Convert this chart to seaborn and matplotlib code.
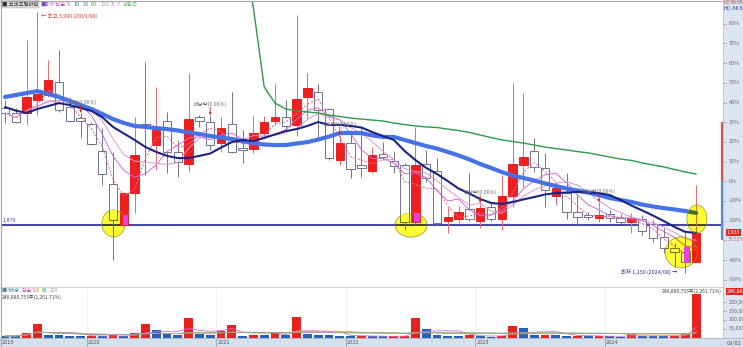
import numpy as np
import pandas as pd
import matplotlib
matplotlib.use("Agg")
import matplotlib.pyplot as plt
import seaborn as sns
from matplotlib.patches import Ellipse, Rectangle
from matplotlib.lines import Line2D
from matplotlib.colors import to_rgb
from matplotlib.transforms import blended_transform_factory

# ---------------- data (monthly candles, values on the chart's % axis) ----------------
months = [str(p) for p in pd.period_range("2019-05", "2024-09", freq="M")]

open_pct = [37.2, 34.7, 34.7, 41.3, 43.8, 50.4, 37.7, 32.1, 29.1, 15.4,
            -1.4, -22.2, -6.0, 29.1, 18.4, 30.6, 14.9, 8.8, 32.6, 30.1,
            19.4, 29.1, 16.9, 16.4, 24.5, 30.6, 32.6, 28.6, 42.8, 45.3,
            36.7, 10.8, 19.4, 8.3, 5.2, 13.9, 10.3, 8.3, -20.7, 8.8,
            5.2, -20.2, -19.1, -14.1, -20.2, -13.0, -19.1, -7.5, 8.3, 15.4,
            6.8, -7.5, -6.0, -15.6, -17.1, -18.6, -16.6, -18.6, -20.7, -19.1,
            -21.7, -28.3, -33.9, -35.9, -41.0]
high_pct = [41.3, 37.2, 71.7, 85.9, 61.6, 66.6, 42.8, 34.7, 30.1, 27.0,
            14.9, -5.4, 32.6, 60.6, 47.9, 35.2, 21.0, 55.0, 33.6, 33.6,
            32.6, 45.3, 26.0, 33.1, 33.1, 49.9, 41.3, 84.5, 55.0, 49.4,
            37.2, 23.5, 26.0, 27.0, 17.4, 19.9, 15.4, 9.3, 27.6, 15.9,
            11.8, -13.0, -12.5, 4.2, -11.0, -10.5, 3.2, 49.9, 44.8, 22.0,
            14.4, -0.4, 4.2, -7.0, -15.6, -10.5, -14.6, -16.6, -16.1, -17.1,
            -19.6, -23.7, -31.3, -26.2, -1.9]
low_pct = [29.6, 29.6, 28.6, 33.6, 42.8, 35.2, 30.1, 22.5, 18.4, -1.9,
           -40.0, -22.7, -16.1, 3.2, 5.7, 4.2, 2.2, 4.7, 27.6, 15.9,
           14.9, 14.4, 9.3, 14.4, 22.5, 28.6, 26.0, 23.0, 31.1, 22.5,
           10.8, 8.3, 1.7, 2.2, 4.2, 10.8, 4.2, -24.7, -21.7, -0.4,
           -22.2, -26.2, -21.2, -20.2, -23.7, -20.2, -24.7, -13.0, -2.9, 4.7,
           -13.0, -12.0, -19.1, -22.2, -19.6, -20.7, -20.7, -21.7, -26.2, -27.3,
           -30.8, -36.4, -43.5, -46.5, -41.0]
close_pct = [34.7, 30.1, 42.8, 44.3, 51.4, 36.2, 30.6, 30.6, 18.9, 3.7,
             -19.6, -6.0, 13.4, 27.6, 26.0, 14.9, 9.8, 31.6, 30.6, 18.4,
             27.0, 14.9, 15.9, 24.5, 30.1, 32.6, 28.1, 41.8, 47.4, 36.2,
             11.8, 19.4, 6.3, 6.8, 13.4, 12.3, 7.8, -20.7, 8.3, 1.7,
             -21.2, -18.1, -15.6, -19.1, -13.5, -19.1, -7.5, 8.8, 12.3, 7.3,
             -4.4, -3.4, -15.6, -18.1, -18.1, -17.1, -18.6, -20.7, -18.6, -25.2,
             -28.8, -33.9, -35.9, -41.0, -26.2]
ma10_pct = [37.7, 35.9, 34.7, 36.7, 38.2, 39.7, 38.7, 37.2, 35.7, 32.6,
            27.6, 24.3, 21.0, 17.4, 14.9, 12.9, 11.8, 11.8, 12.9, 14.1,
            17.1, 19.9, 21.0, 20.4, 22.0, 23.8, 25.5, 26.5, 28.1, 30.1,
            28.6, 28.6, 28.1, 27.3, 25.0, 23.0, 21.0, 15.4, 10.8, 6.8,
            3.7, 0.1, -3.7, -6.2, -9.0, -11.0, -11.5, -10.5, -9.2, -8.0,
            -6.7, -6.0, -5.7, -5.4, -5.7, -6.0, -7.0, -9.5, -12.3, -14.8,
            -17.4, -20.2, -23.2, -25.7, -26.2]
ma20_pct = [42.8, 43.8, 44.8, 45.8, 44.3, 42.8, 40.8, 38.7, 36.7, 34.2,
            31.6, 29.6, 28.1, 27.6, 27.0, 26.5, 25.8, 24.8, 24.0, 23.0,
            22.2, 21.5, 20.4, 19.4, 18.7, 18.4, 18.4, 19.2, 19.9, 21.2,
            22.7, 24.5, 24.5, 24.5, 23.3, 22.5, 22.5, 21.0, 19.4, 17.9,
            16.6, 14.9, 13.1, 11.1, 8.8, 6.8, 4.7, 2.9, 1.7, 0.4,
            -1.1, -2.4, -3.7, -4.7, -5.7, -7.0, -8.5, -9.5, -10.5, -11.8,
            -12.8, -13.6, -14.3, -15.1, -16.1]
ma60_pct = [np.nan] * 22 + [122.5, 88.0,
            47.9, 39.7, 36.7, 35.7, 35.2, 34.7, 33.6, 32.9, 32.1, 31.6,
            31.1, 30.6, 29.6, 28.8, 28.1, 27.6, 27.3, 26.5, 25.8, 24.8,
            23.5, 22.2, 21.0, 20.2, 19.4, 18.4, 17.4, 16.6, 15.9, 15.1,
            14.4, 13.4, 12.3, 11.3, 10.6, 9.3, 8.3, 7.3, 6.0, 4.7, 3.7]
volume_k = [8500, 8000, 28400, 79500, 14200, 11400, 8500, 7400, 9100, 6800,
            11400, 8500, 24400, 77300, 39800, 18800, 11400, 111400, 22700, 11400,
            38100, 72200, 10200, 15300, 13100, 24400, 14200, 119300, 18800, 14200,
            11400, 8500, 6800, 8000, 6800, 5700, 6300, 8500, 111400, 47200,
            15300, 8500, 7400, 15300, 5700, 5100, 8500, 65900, 56800, 14200,
            15900, 14200, 7400, 8500, 5700, 8500, 5700, 5100, 18800, 8500,
            6800, 6300, 8000, 18800, 246880]

year_labels = ["2019", "2020", "2021", "2022", "2023", "2024"]
year_first_month = ["2019-05", "2020-01", "2021-01", "2022-01", "2023-01", "2024-01"]
pct_ticks = [80, 70, 60, 50, 40, 30, 20, 10, 0, -10, -20, -30, -40, -50]
vol_ticks = [200000, 150000, 100000, 50000]
support_level = -22.4
support_text = "1,879"
limit_pct = 30
dividend_months = ["2019-12", "2020-12", "2021-12", "2023-01", "2023-12"]
dividend_text = "배당락(0.00%)"
high_month, high_text = "2019-08", "← 최고 3,990 (2019/08)"
low_month, low_text = "2024-08", "최저 1,150 (2024/08) →"
last_price_text = "1,933"
last_change_text = "35.52%"
last_volume_text = "246,880"
volume_note = "246,880,753주(2,261.71%)"

# highlighted zones (month index centre, % centre, width in months, height in %)
hl_x = [10.05, 37.6, 64.07, 62.6]
hl_y = [-21.4, -22.2, -19.1, -36.1]
hl_w = [2.15, 2.96, 1.85, 2.96]
hl_h = [13.7, 12.2, 14.2, 15.7]
# small magenta marks
mg_month = ["2020-04", "2022-07", "2024-08"]
mg_low = [-22.2, -20.7, -41.5]
mg_high = [-17.0, -16.1, -33.4]

# ---------------- setup ----------------
sns.set_theme(style="white")
plt.rcParams["font.family"] = ["Noto Sans CJK KR", "DejaVu Sans"]
plt.rcParams["axes.unicode_minus"] = False

W, H = 743, 347
fig = plt.figure(figsize=(W / 100, H / 100), dpi=100)
fig.patch.set_facecolor("white")


def fx(px):
    return px / W


def fy(py):
    return 1 - py / H


x = np.arange(len(months))
o = np.array(open_pct)
hi = np.array(high_pct)
lo = np.array(low_pct)
c = np.array(close_pct)
cs = pd.Series(c)
ma3 = cs.rolling(3, min_periods=1).mean().values
ma5 = cs.rolling(5, min_periods=1).mean().values
ma7 = cs.rolling(7, min_periods=1).mean().values

XMIN = (1 - 5) / 10.8
XMAX = XMIN + 722 / 10.8

ax = fig.add_axes([fx(1), fy(286), fx(722), 285.5 / H])
axv = fig.add_axes([fx(1), fy(338), fx(722), 50 / H])
for a in (ax, axv):
    a.set_facecolor("white")
    for s in a.spines.values():
        s.set_visible(False)
    a.set_xticks([])
    a.set_yticks([])

UP = "#ee1f1f"
DOWN_EDGE = "#6d7290"
YEL = (1.0, 1.0, 0.2)


def col(cc, m):
    if m is None:
        return cc
    r, g, b = to_rgb(cc)
    return (r * m[0], g * m[1], b * m[2])


def draw_price(m=None, clip=None, dz=0):
    arts = []
    arts.append(ax.axhline(support_level, color=col("#4848a8", m), lw=1.5, zorder=2 + dz))
    up = c >= o
    wcols = [col("#e86a6a" if u else DOWN_EDGE, m) for u in up]
    arts.append(ax.vlines(x, lo, hi, colors=wcols, lw=0.7, zorder=3 + dz))
    bottoms = np.minimum(o, c)
    heights = np.maximum(np.abs(c - o), 0.4)
    faces = [col(UP, m) if u else col("#ffffff", m) for u in up]
    edges = [col(UP, m) if u else col(DOWN_EDGE, m) for u in up]
    bars = ax.bar(x, heights, bottom=bottoms, width=0.76, color=faces,
                  edgecolor=edges, linewidth=0.7, zorder=3.5 + dz)
    arts.extend(bars.patches)
    specs = [(ma3, "#e07098", (0, (2.5, 1.5)), 0.7, 4.0),
             (ma5, "#c86ed8", "-", 0.7, 4.1),
             (ma7, "#dc96d2", "-", 0.7, 4.2),
             (np.array(ma60_pct), "#2e9a48", "-", 1.0, 4.3),
             (np.array(ma10_pct), "#1c2380", "-", 1.5, 4.5),
             (np.array(ma20_pct), "#4672e6", "-", 3.0, 4.4)]
    for series, cc, ls, lw, z in specs:
        sns.lineplot(x=x, y=series, ax=ax, color=col(cc, m), linewidth=lw,
                     linestyle=ls, zorder=z + dz, estimator=None, errorbar=None,
                     sort=False, solid_capstyle="round")
        arts.append(ax.lines[-1])
    if clip is not None:
        for a in arts:
            a.set_clip_path(clip)


draw_price()

# highlighter ellipses (multiply-like look: redraw content inside with yellow tint)
for ex, ey, ew, eh in zip(hl_x, hl_y, hl_w, hl_h):
    e = Ellipse((ex, ey), ew, eh, facecolor="#ffff33", edgecolor="#a0a030",
                lw=0.6, zorder=9)
    ax.add_patch(e)
    draw_price(m=YEL, clip=e, dz=10)

for mm, ml, mh in zip(mg_month, mg_low, mg_high):
    i = months.index(mm)
    ax.add_patch(Rectangle((i - 0.1, ml), 0.5, mh - ml, facecolor="#e040e8",
                           edgecolor="none", zorder=20))

# annotations
for dm in dividend_months:
    i = months.index(dm)
    ax.annotate(dividend_text, xy=(i, hi[i]), xytext=(0, 8), textcoords="offset points",
                ha="center", va="center", fontsize=3.8, color="#707070", zorder=21)
    ax.annotate("", xy=(i, hi[i]), xytext=(0, 5.5), textcoords="offset points",
                arrowprops=dict(arrowstyle="-|>", color="#e02020", lw=0.6,
                                mutation_scale=3, shrinkA=0, shrinkB=0), zorder=21)

ih = months.index(high_month)
ax.annotate(high_text, xy=(ih, hi[ih]), xytext=(2.5, -3), textcoords="offset points",
            ha="left", va="center", fontsize=3.9, color="#e03a3a", zorder=21)
il = months.index(low_month)
ax.annotate(low_text, xy=(il, lo[il]), xytext=(-6, 0.5), textcoords="offset points",
            ha="right", va="center", fontsize=3.9, color="#2a2a90", zorder=21)

tr = blended_transform_factory(ax.transAxes, ax.transData)
ax.annotate(support_text, xy=(0, support_level), xycoords=tr, xytext=(1, 3.2),
            textcoords="offset points", ha="left", va="center", fontsize=3.8,
            color="#4848a8", zorder=21)

ax.set_xlim(XMIN, XMAX)
ax.set_ylim(-53.15, 91.78)
ax.set_xlabel("")
ax.set_ylabel("")

# right % scale
fig.patches.append(Rectangle((fx(723), 0), fx(20), 1, transform=fig.transFigure,
                             facecolor="#dce6f2", edgecolor="none", zorder=-1))
for t in pct_ticks:
    ax.plot([1.0, 1.004], [t, t], transform=tr, color="#999999", lw=0.5, clip_on=False)
    if abs(t - c[-1]) < 5:
        continue  # hidden behind the current-price box, as in the reference
    ax.annotate(f"{t}%", xy=(1, t), xycoords=tr, xytext=(4, 0), textcoords="offset points",
                ha="left", va="center", fontsize=3.9, color="#666666", annotation_clip=False)
ax.plot([0.9986, 0.9986], [0, limit_pct], transform=tr, color="#d9534f", lw=1.6,
        solid_capstyle="butt", clip_on=False, zorder=22)
ax.plot([0.9986, 0.9986], [0, -limit_pct], transform=tr, color="#5b8fd0", lw=1.6,
        solid_capstyle="butt", clip_on=False, zorder=22)
ax.annotate(last_price_text, xy=(1, c[-1]), xycoords=tr, xytext=(2.8, 0),
            textcoords="offset points", ha="left", va="center", fontsize=3.9, color="white",
            bbox=dict(boxstyle="square,pad=0.2", fc="#e3221e", ec="none"),
            annotation_clip=False, zorder=23)
ax.annotate(last_change_text, xy=(1, c[-1]), xycoords=tr, xytext=(3.5, -4.8),
            textcoords="offset points", ha="left", va="center", fontsize=3.5,
            color="#d06060", annotation_clip=False, zorder=22)

# ---------------- volume ----------------
vol = np.array(volume_k, dtype=float)
vcols = ["#2461b8"] + ["#e8231f" if vol[i] > vol[i - 1] else "#2461b8" for i in range(1, len(vol))]
axv.bar(x, vol, width=0.8, color=vcols, linewidth=0, zorder=3)
vs = pd.Series(vol)
for n, cc in [(5, "#d070d0"), (20, "#e0b030"), (60, "#50a060"), (120, "#a8a8a8")]:
    sns.lineplot(x=x, y=vs.rolling(n, min_periods=1).mean().values, ax=axv, color=cc,
                 linewidth=0.6, zorder=4, estimator=None, errorbar=None, sort=False)
axv.set_xlim(XMIN, XMAX)
axv.set_ylim(-2841, 281260)
axv.set_xlabel("")
axv.set_ylabel("")
trv = blended_transform_factory(axv.transAxes, axv.transData)
for v in vol_ticks:
    axv.annotate(f"{v:,}", xy=(1, v), xycoords=trv, xytext=(4, 0), textcoords="offset points",
                 ha="left", va="center", fontsize=3.9, color="#666666", annotation_clip=False)
    axv.plot([1.0, 1.004], [v, v], transform=trv, color="#999999", lw=0.5, clip_on=False)
axv.annotate(last_volume_text, xy=(1, vol[-1]), xycoords=trv, xytext=(2.8, 2),
             textcoords="offset points", ha="left", va="center", fontsize=3.9, color="white",
             bbox=dict(boxstyle="square,pad=0.2", fc="#e3221e", ec="none"),
             annotation_clip=False, zorder=23)

# ---------------- bottom date strip ----------------
fig.patches.append(Rectangle((0, 0), 1, 9 / H, transform=fig.transFigure,
                             facecolor="#d6e1ee", edgecolor="none", zorder=-0.5))
axs = fig.add_axes([fx(1), 0, fx(722), 9 / H])
axs.set_facecolor("none")
for s in axs.spines.values():
    s.set_visible(False)
axs.set_xticks([])
axs.set_yticks([])
axs.set_xlim(XMIN, XMAX)
axs.set_ylim(0, 1)
for lab, fm in zip(year_labels, year_first_month):
    i = months.index(fm) - 0.45
    if fm != year_first_month[0]:
        axs.axvline(i, color="#9aa6b8", lw=0.6)
        axv.axvline(i, color="#e6e6e6", lw=0.4, zorder=1)
    axs.text(i + 0.12, 0.45, lab, ha="left", va="center", fontsize=4.1, color="#555555",
             clip_on=False)
fig.text(fx(727), fy(343), "09/02", ha="left", va="center", fontsize=4.1, color="#555555")

# ---------------- headers ----------------
fig.text(fx(2), fy(4), "■ 코데즈컴바인", ha="left", va="center", fontsize=3.9, color="#333333",
         bbox=dict(boxstyle="square,pad=0.15", fc="#d9d9d9", ec="#b0b0b0", lw=0.3))
for px_, txt, cc in [(40, "■", "#6060b0"), (44, "종가 단순", "#c23fc2"), (67, "5", "#c23fc2"),
                     (74, "10", "#4d4dcc"), (83, "20", "#3a6fd8"), (91, "60", "#2e9a48"),
                     (101, "120", "#b8a0b8"), (111, "3", "#a050c0"), (117, "7", "#d070b0"),
                     (123, "상한선", "#60b060")]:
    fig.text(fx(px_), fy(4), txt, ha="left", va="center", fontsize=3.9, color=cc)
fig.text(fx(724), fy(3), "LC:36.59", ha="left", va="center", fontsize=3.6, color="#d03030")
fig.text(fx(724), fy(8.5), "HC:-60.63", ha="left", va="center", fontsize=3.6, color="#3030a0")

for px_, txt, cc in [(2, "■", "#6080a0"), (6, "거래량", "#3a9aa8"), (22, "단순 5", "#c23fc2"),
                     (35, "20", "#e0a020"), (42, "60", "#2e9a48"), (50, "120", "#a0a0a0")]:
    fig.text(fx(px_), fy(290), txt, ha="left", va="center", fontsize=3.6, color=cc)
fig.text(fx(2), fy(297), volume_note, ha="left", va="center", fontsize=3.6, color="#444444")
fig.text(fx(722), fy(291), volume_note, ha="right", va="center", fontsize=3.6, color="#444444")

# borders / separators
for (x0, y0, x1, y1, cc, lw) in [(0, 0.5, 743, 0.5, "#a8a8a8", 0.8),
                                 (0.5, 0, 0.5, 347, "#a8a8a8", 0.8),
                                 (0, 286.8, 723, 286.8, "#c8c8c8", 0.6),
                                 (0, 338.2, 743, 338.2, "#aab4c4", 0.6),
                                 (723.2, 0, 723.2, 338, "#b8c0cc", 0.5)]:
    fig.add_artist(Line2D([fx(x0), fx(x1)], [fy(y0), fy(y1)], transform=fig.transFigure,
                          color=cc, lw=lw, zorder=30))

fig.savefig("out.png", dpi=100)
